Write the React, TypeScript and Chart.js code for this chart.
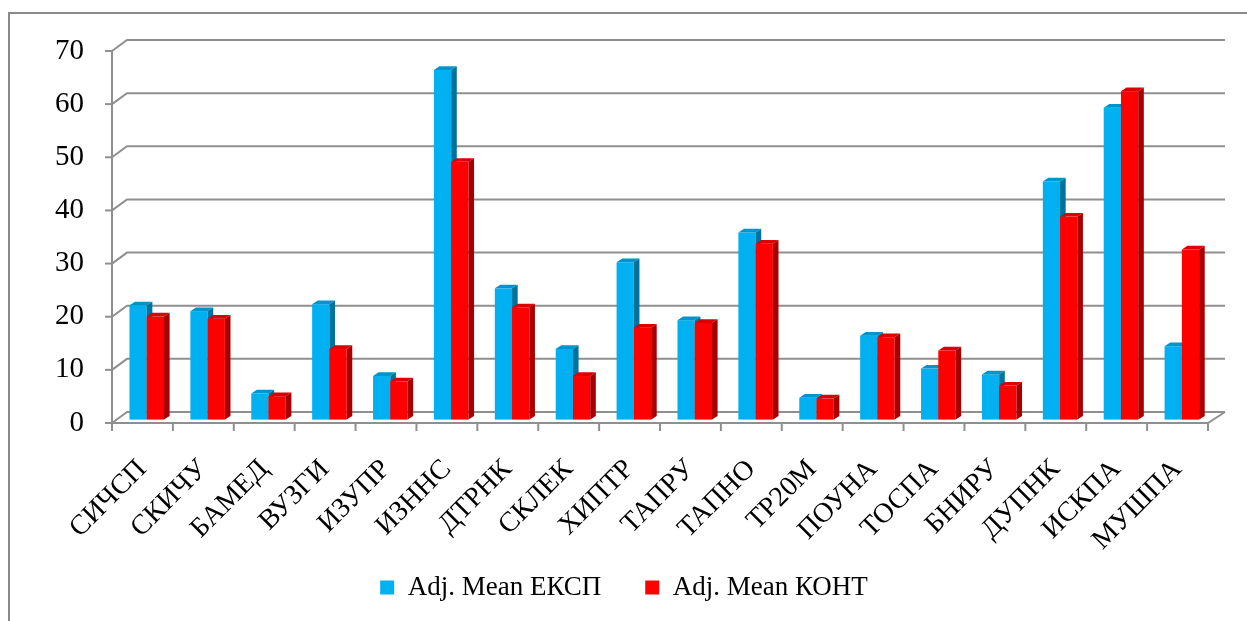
import React, { useEffect, useRef } from 'react';
import { Chart, registerables } from 'chart.js';

Chart.register(...registerables);

const categories = ['СИЧСП', 'СКИЧУ', 'БАМЕД', 'ВУЗГИ', 'ИЗУПР', 'ИЗННС', 'ДТРНК', 'СКЛЕК', 'ХИПТР', 'ТАПРУ', 'ТАПНО', 'ТР20М', 'ПОУНА', 'ТОСПА', 'БНИРУ', 'ДУПНК', 'ИСКПА', 'МУШПА'];
const seriesNames = ['Adj. Mean ЕКСП', 'Adj. Mean КОНТ'];
const eksp = [21.5, 20.4, 4.9, 21.7, 8.2, 65.8, 24.7, 13.3, 29.6, 18.7, 35.2, 4.1, 15.8, 9.6, 8.5, 44.8, 58.7, 13.8];
const kont = [19.4, 19.0, 4.4, 13.3, 7.2, 48.5, 21.1, 8.2, 17.3, 18.2, 33.1, 4.0, 15.5, 13.0, 6.4, 38.2, 61.8, 32.0];
const yMin = 0;
const yMax = 70;
const yStep = 10;

const FONT = "'Liberation Serif', 'Times New Roman', serif";
const GRID = '#8f8f8f';
const faceColors = [
  { front: '#00B0F0', top: '#0094cc', side: '#00729c' },
  { front: '#FF0000', top: '#dc0000', side: '#a80000' },
];

// 3D look: back wall offset, bar offset and bar depth (pixels)
const WALL_DX = 15, WALL_DY = 11;
const BAR_DX = 4.3, BAR_DY = 3.4;
const DEPTH_DX = 5.6, DEPTH_DY = 3.7;

const threeD = {
  id: 'threeD',
  afterLayout(chart: any) {
    // let the rotated category labels extend below the axis box (no clipping)
    const xs = chart.scales.x;
    if (xs) xs.bottom = chart.height;
  },
  beforeDatasetsDraw(chart: any) {
    const { ctx, chartArea, scales } = chart;
    const ys = scales.y;
    const L = chartArea.left, R = chartArea.right;
    const y0 = ys.getPixelForValue(yMin);
    const yTop = ys.getPixelForValue(yMax);
    ctx.save();
    ctx.strokeStyle = GRID;
    ctx.lineWidth = 2;
    ctx.lineCap = 'butt';
    // back wall gridlines
    ys.ticks.forEach((t: any) => {
      const py = ys.getPixelForValue(t.value);
      ctx.beginPath();
      ctx.moveTo(L, py);
      ctx.lineTo(L + WALL_DX, py - WALL_DY);
      ctx.lineTo(R + WALL_DX + 2, py - WALL_DY);
      ctx.stroke();
      ctx.beginPath();
      ctx.moveTo(L - 7, py);
      ctx.lineTo(L, py);
      ctx.stroke();
    });
    // front floor edge and right corner
    ctx.beginPath();
    ctx.moveTo(L, y0);
    ctx.lineTo(R, y0);
    ctx.lineTo(R + WALL_DX + 2, y0 - WALL_DY);
    ctx.stroke();
    // vertical axis
    ctx.beginPath();
    ctx.moveTo(L, yTop - 1);
    ctx.lineTo(L, y0 + 1);
    ctx.stroke();
    // category tick marks
    const n = categories.length;
    for (let i = 0; i <= n; i++) {
      const bx = L + (i * (R - L)) / n;
      ctx.beginPath();
      ctx.moveTo(bx, y0);
      ctx.lineTo(bx, y0 + 8);
      ctx.stroke();
    }
    // bars, category by category, series in order
    for (let i = 0; i < n; i++) {
      chart.data.datasets.forEach((ds: any, d: number) => {
        const el: any = chart.getDatasetMeta(d).data[i];
        if (!el) return;
        const c = faceColors[d];
        const left = el.x - el.width / 2 + BAR_DX;
        const right = el.x + el.width / 2 + BAR_DX;
        const t = el.y - BAR_DY;
        const b = el.base - BAR_DY;
        ctx.fillStyle = c.front;
        ctx.fillRect(left, t, right - left, b - t);
        ctx.fillStyle = c.top;
        ctx.beginPath();
        ctx.moveTo(left, t);
        ctx.lineTo(left + DEPTH_DX, t - DEPTH_DY);
        ctx.lineTo(right + DEPTH_DX, t - DEPTH_DY);
        ctx.lineTo(right, t);
        ctx.closePath();
        ctx.fill();
        ctx.fillStyle = c.side;
        ctx.beginPath();
        ctx.moveTo(right, t);
        ctx.lineTo(right + DEPTH_DX, t - DEPTH_DY);
        ctx.lineTo(right + DEPTH_DX, b - DEPTH_DY);
        ctx.lineTo(right, b);
        ctx.closePath();
        ctx.fill();
      });
    }
    ctx.restore();
    return false;
  },
};

export default function App() {
  const ref = useRef<HTMLCanvasElement>(null);
  useEffect(() => {
    const chart = new Chart(ref.current as HTMLCanvasElement, {
      type: 'bar',
      data: {
        labels: categories,
        datasets: [
          { label: seriesNames[0], data: eksp, backgroundColor: faceColors[0].front, borderWidth: 0 },
          { label: seriesNames[1], data: kont, backgroundColor: faceColors[1].front, borderWidth: 0 },
        ],
      },
      options: {
        responsive: false,
        devicePixelRatio: 1,
        animation: false,
        layout: { padding: { left: 40, top: 51, right: 39, bottom: 10 } },
        datasets: { bar: { categoryPercentage: 0.567, barPercentage: 1 } },
        plugins: {
          tooltip: { enabled: false },
          legend: {
            position: 'bottom',
            labels: {
              boxWidth: 14,
              boxHeight: 14,
              padding: 44,
              color: '#000',
              font: { family: FONT, size: 27 },
            },
          },
        },
        scales: {
          x: {
            grid: { display: false, drawTicks: false },
            border: { display: false },
            ticks: {
              autoSkip: false,
              minRotation: 45,
              maxRotation: 45,
              padding: 30,
              color: '#000',
              font: { family: FONT, size: 28 },
            },
            afterFit: (s: any) => { s.height = 107; },
          },
          y: {
            min: yMin,
            max: yMax,
            grid: { display: false, drawTicks: false },
            border: { display: false },
            ticks: {
              stepSize: yStep,
              padding: 28,
              color: '#000',
              font: { family: FONT, size: 29 },
            },
            afterFit: (s: any) => { s.width = 72; },
          },
        },
      },
      plugins: [threeD],
    } as any);
    return () => chart.destroy();
  }, []);
  return (
    <div style={{ position: 'fixed', left: 0, top: 0, width: 1247, height: 621, overflow: 'hidden', background: '#fff' }}>
      <div style={{ position: 'absolute', left: 8, top: 12, width: 1300, height: 700, border: '2px solid #8a8a8a', boxSizing: 'border-box' }} />
      <canvas ref={ref} width={1247} height={621} style={{ position: 'absolute', left: 0, top: 0, width: 1247, height: 621 }} />
    </div>
  );
}
